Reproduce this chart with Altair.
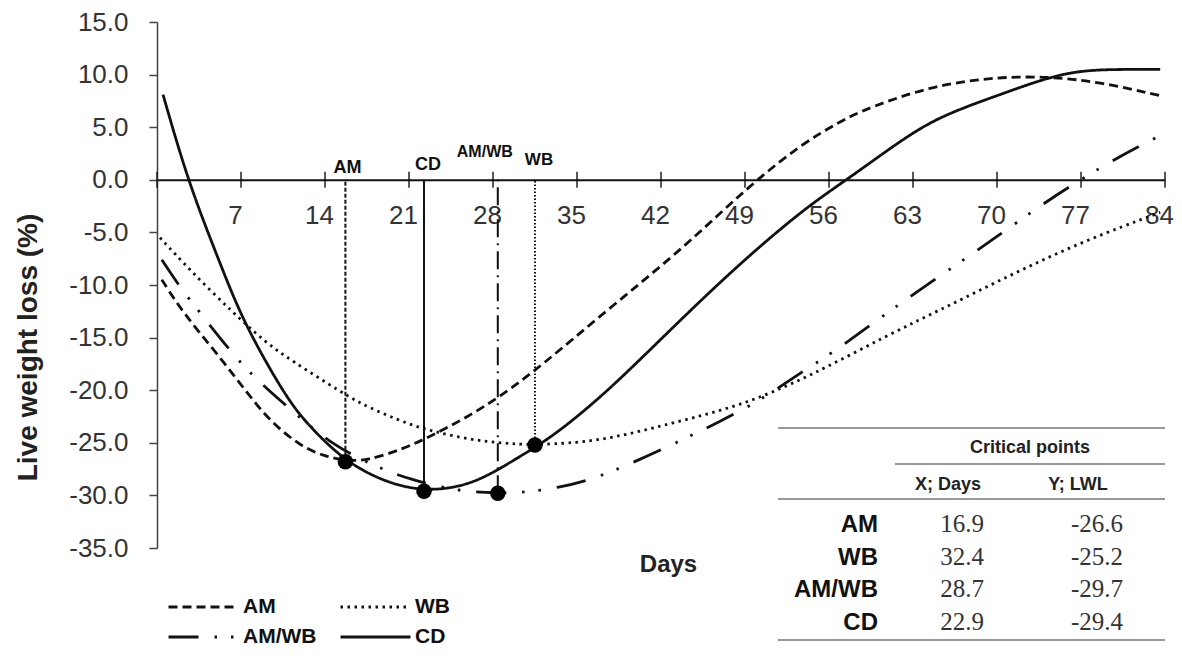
import altair as alt
import pandas as pd

# ---------------- data ----------------
series_names = ["AM", "AM/WB", "WB", "CD"]

am_day = [0.4, 2.2, 5.0, 7.75, 9.4, 11.9, 14.0, 15.7, 17.5, 20.5, 22.75, 25.8, 28.6, 31.9,
          37.5, 43.0, 46.9, 50.0, 53.6, 57.0, 59.2, 64.7, 70.25, 74.4, 78.6, 83.6]
am_val = [-9.5, -12.7, -16.5, -20.6, -22.9, -25.3, -26.3, -26.7, -26.7, -25.6, -24.4, -22.6, -20.6, -17.8,
          -12.4, -7.3, -3.2, 0.0, 3.3, 5.6, 6.8, 9.0, 9.8, 9.8, 9.3, 8.0]

wb_day = [0.25, 2.75, 6.4, 9.1, 11.1, 15.5, 17.5, 21.1, 23.0, 25.25, 27.5, 29.7, 31.5, 36.9,
          43.0, 48.6, 54.2, 60.8, 66.3, 71.9, 77.5, 83.6]
wb_val = [-5.5, -8.6, -12.7, -15.5, -17.1, -20.3, -21.6, -23.3, -23.9, -24.5, -24.9, -25.1, -25.2, -24.9,
          -23.1, -21.5, -18.8, -14.8, -11.8, -8.6, -5.7, -3.1]

amwb_day = [0.4, 1.9, 3.7, 6.25, 8.3, 11.3, 14.7, 18.3, 21.1, 25.0, 28.4, 30.7, 33.3, 36.3,
            40.25, 43.8, 46.7, 50.25, 53.8, 56.1, 59.7, 63.0, 67.6, 70.0, 73.3, 76.9, 80.5, 83.4]
amwb_val = [-7.6, -10.2, -12.8, -16.5, -19.0, -22.0, -25.3, -27.3, -28.5, -29.6, -29.8, -29.7, -29.3, -28.5,
            -26.6, -24.7, -23.1, -21.0, -18.2, -16.6, -13.6, -10.9, -7.3, -5.4, -2.7, 0.0, 2.4, 4.1]

cd_day = [0.5, 2.6, 5.0, 6.9, 9.1, 11.1, 12.75, 15.7, 19.1, 22.25, 25.25, 27.5, 30.25, 33.0,
          37.5, 43.0, 48.6, 54.2, 57.75, 63.0, 66.1, 70.25, 74.4, 77.2, 80.0, 83.6]
cd_val = [8.1, -0.2, -7.2, -12.7, -17.4, -21.2, -23.5, -26.8, -28.8, -29.6, -29.2, -28.2, -26.3, -24.4,
          -20.2, -14.0, -7.9, -2.5, 0.2, 4.6, 6.4, 8.1, 9.8, 10.4, 10.5, 10.5]

# critical points as drawn
crit_series = ["AM", "CD", "AM/WB", "WB"]
crit_day = [15.7, 22.25, 28.4, 31.5]
crit_val = [-26.8, -29.6, -29.8, -25.2]

# table text
table_names = ["AM", "WB", "AM/WB", "CD"]
table_x = ["16.9", "32.4", "28.7", "22.9"]
table_y = ["-26.6", "-25.2", "-29.7", "-29.4"]

x_ticks = [7, 14, 21, 28, 35, 42, 49, 56, 63, 70, 77, 84]
x_tick_marks = [0] + x_ticks
y_ticks = [-35, -30, -25, -20, -15, -10, -5, 0, 5, 10, 15]

# ---------------- build ----------------
W, H = 1008, 526
SANS = "Liberation Sans"
SERIF = "Liberation Serif"
INK = "#111111"

rows = []
for name, ds, vs in [("AM", am_day, am_val), ("WB", wb_day, wb_val),
                     ("AM/WB", amwb_day, amwb_val), ("CD", cd_day, cd_val)]:
    for d, v in zip(ds, vs):
        rows.append({"day": d, "val": v, "series": name})
curve_df = pd.DataFrame(rows)

dash_range = [[9, 5], [30, 16, 2.5, 14, 2.5, 16], [2.5, 4.5], [1, 0]]

xscale = alt.Scale(domain=[0, 84], nice=False, zero=False)
yscale = alt.Scale(domain=[-35, 15], nice=False, zero=False)

y_zero_offset = -(H - H * 15 / 50)

x_axis = alt.Axis(
    values=x_ticks, format="d", title="Days", offset=y_zero_offset,
    ticks=False, tickSize=0, grid=False,
    domainColor=INK, domainWidth=2,
    labelFont=SANS, labelFontSize=26, labelColor="#333333", labelPadding=23,
    labelOffset=-6, labelFlush=False, labelOverlap=False,
    titleFont=SANS, titleFontSize=24, titleFontWeight="bold", titleColor="#222222",
    titleX=511, titleY=385, titleAlign="center", titleBaseline="middle")
y_axis = alt.Axis(
    values=y_ticks, labelExpr="replace(format(datum.value, '.1f'), '\u2212', '-')",
    title="Live weight loss (%)", grid=False,
    tickSize=8, tickWidth=1.5, tickColor="#444444",
    domainColor="#444444", domainWidth=1.5,
    labelFont=SANS, labelFontSize=26, labelColor="#333333", labelPadding=21,
    labelFlush=False, labelOverlap=False,
    titleFont=SANS, titleFontSize=28, titleFontWeight="bold", titleColor="#222222",
    titleX=-129, titleY=325, titleAngle=270, titleAlign="center", titleBaseline="middle")

curves = alt.Chart(curve_df).mark_line(
    interpolate="basis", strokeWidth=2.8, color=INK, strokeCap="butt"
).encode(
    x=alt.X("day:Q", scale=xscale, axis=x_axis),
    y=alt.Y("val:Q", scale=yscale, axis=y_axis),
    strokeDash=alt.StrokeDash("series:N", scale=alt.Scale(domain=series_names, range=dash_range),
                              legend=alt.Legend(
                                  title=None, orient="none", legendX=10, legendY=574,
                                  columns=2, symbolType="stroke", symbolSize=4900,
                                  symbolStrokeWidth=2.8, symbolStrokeColor=INK,
                                  clipHeight=22, labelFont=SANS, labelFontSize=21,
                                  labelFontWeight="bold", labelColor=INK, labelOffset=3,
                                  columnPadding=22, rowPadding=8, padding=0)),
)

layers = [curves]

# x-axis ticks crossing the zero line
tick_df = pd.DataFrame({"day": x_tick_marks, "val": [0] * len(x_tick_marks)})
layers.append(alt.Chart(tick_df).mark_tick(orient="vertical", size=16, thickness=2, color=INK).encode(
    x="day:Q", y="val:Q"))

# vertical drop lines to the critical points
crit_df = pd.DataFrame({"day": crit_day, "val": crit_val, "series": crit_series,
                        "z": [0] * len(crit_day)})
drop_dash = {"AM": [4, 2], "CD": [1, 0], "AM/WB": [18, 6, 2, 6], "WB": [1.5, 2]}
for s in crit_series:
    sub = crit_df[crit_df.series == s]
    layers.append(alt.Chart(sub).mark_rule(strokeDash=drop_dash[s], strokeWidth=2, color=INK).encode(
        x="day:Q", y="val:Q", y2="z:Q"))

# markers
layers.append(alt.Chart(crit_df).mark_circle(size=240, color="#000000", opacity=1).encode(
    x="day:Q", y="val:Q"))

# labels above the zero line
lab_df = pd.DataFrame({"day": crit_day, "val": [0] * len(crit_day), "series": crit_series})
lab_style = {"AM": (2, -7, 18), "CD": (4, -10, 18), "AM/WB": (-13, -23, 16), "WB": (4, -15, 17)}
for s in crit_series:
    sub = lab_df[lab_df.series == s]
    dx, dy, fs = lab_style[s]
    layers.append(alt.Chart(sub).mark_text(
        dx=dx, dy=dy, align="center", baseline="alphabetic", font=SANS, fontSize=fs,
        fontWeight="bold", color=INK).encode(
        x="day:Q", y="val:Q", text="series:N"))

# ---------------- table of critical points ----------------
one = pd.DataFrame({"k": [0]})
for (x1, x2, yy) in [(621, W, 406), (738, W, 442), (621, W, 477), (621, W, 618)]:
    layers.append(alt.Chart(one).mark_rule(color="#777777", strokeWidth=1.5).encode(
        x=alt.value(x1), x2=alt.value(x2), y=alt.value(yy)))

hdr = [("Critical points", 873, 431, 18), ("X; Days", 791, 468, 18), ("Y; LWL", 921, 468, 18)]
for txt, xx, yy, fs in hdr:
    layers.append(alt.Chart(pd.DataFrame({"t": [txt]})).mark_text(
        align="center", baseline="alphabetic", font=SANS, fontSize=fs, fontWeight="bold",
        color="#222222").encode(x=alt.value(xx), y=alt.value(yy), text="t:N"))

for i, (nm, xv, yv) in enumerate(zip(table_names, table_x, table_y)):
    yy = 510 + i * 32.7
    rdf = pd.DataFrame({"nm": [nm], "xv": [xv], "yv": [yv]})
    layers.append(alt.Chart(rdf).mark_text(
        align="right", baseline="alphabetic", font=SANS, fontSize=24, fontWeight="bold",
        color="#111111").encode(x=alt.value(721), y=alt.value(yy), text="nm:N"))
    layers.append(alt.Chart(rdf).mark_text(
        align="center", baseline="alphabetic", font=SERIF, fontSize=25,
        color="#333333").encode(x=alt.value(805), y=alt.value(yy), text="xv:N"))
    layers.append(alt.Chart(rdf).mark_text(
        align="center", baseline="alphabetic", font=SERIF, fontSize=25,
        color="#333333").encode(x=alt.value(940), y=alt.value(yy), text="yv:N"))

chart = alt.layer(*layers).properties(
    width=W, height=H,
    autosize=alt.AutoSizeParams(type="none"),
    padding={"left": 149, "top": 14, "right": 9, "bottom": 112},
    background="white",
).configure_view(strokeWidth=0)

chart.save("out.html", embed_options={"renderer": "svg", "actions": False})
